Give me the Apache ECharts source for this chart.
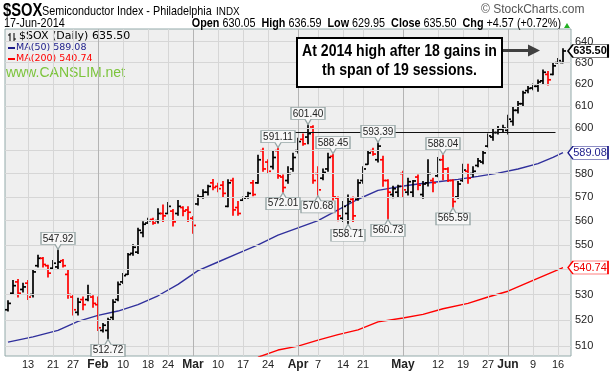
<!DOCTYPE html>
<html>
<head>
<meta charset="utf-8">
<script src="https://cdn.jsdelivr.net/npm/echarts@6/dist/echarts.min.js"></script>
<style>
    html, body { margin: 0; padding: 0; background: #fff; }
    #chart { width: 610px; height: 376px; }
</style>
</head>
<body>
<div id="chart"></div>
<script>
// trading day index 0 = 7-Jan-2014 ... 111 = 17-Jun-2014
const opens = [
    524, 530.5, 535, 532, 534.5, 530, 541.5, 544.5, 541.5, 540.5,
    541, 543.5, 538, 529, 523, 528, 528, 529, 526, 516,
    516, 521, 528, 535, 538, 546.5, 547, 555, 559, 560.5,
    560, 563, 563, 564, 563, 565.5, 564.5, 561, 567, 570,
    572, 576, 574.5, 575, 566, 577, 565.5, 568.6, 570, 576,
    576, 590, 585, 583, 590, 578.5, 577, 582, 590, 595,
    596, 600.5, 580, 578, 582, 587.5, 569.5, 561, 563, 569,
    569, 577, 584, 590, 586, 586, 577, 571, 572, 580,
    572, 572, 578.5, 571, 576, 577, 579, 586, 582, 577,
    570, 577, 581, 580, 583.5, 585, 592, 596, 598, 599.5,
    599, 603, 608, 611, 617, 618.2, 619, 621.5, 624.5, 624.5,
    630, 630.05
]
const highs = [
    527.5, 535.6, 536, 534.5, 535.6, 540, 545.7, 544.8, 541.7, 543.6,
    547.92, 544, 539.8, 529.8, 528.5, 529, 533.7, 529.5, 529, 518.7,
    520.7, 527.9, 535, 538.4, 546.4, 550, 556.8, 559.5, 561, 561,
    565, 566.6, 567.6, 564.7, 568.5, 565.8, 565.8, 561.7, 570.8, 573,
    575, 577.4, 575.8, 576.6, 577.3, 578, 568, 570, 572, 577,
    588, 591, 586, 589.8, 591.11, 579.4, 583, 588.8, 595.5, 597.4,
    601.4, 601, 583, 582, 588.8, 588.45, 570, 568, 570.8, 570,
    577.3, 583, 590, 591, 593.39, 587.5, 577.3, 574.5, 575, 581,
    578, 577, 579.4, 576.6, 586, 578, 587, 588.04, 582.5, 577.3,
    576.6, 584, 584, 583, 586.6, 590, 597.4, 599.8, 600.7, 601.3,
    605.8, 609.6, 612, 616.7, 618.9, 620, 621.9, 626.6, 625.8, 629.7,
    632, 636.59
]
const lows = [
    523.5, 530.3, 529, 531, 528, 529, 541, 541, 537, 540.3,
    540.3, 541, 528.5, 522, 522, 524, 527.5, 525, 516, 515.4,
    512.72, 520, 527.5, 534.4, 538, 545.7, 546.4, 553.3, 558.8, 558.5,
    559, 559.6, 563, 557.8, 562.3, 562, 559.6, 554.8, 566.6, 569.4,
    570.8, 573, 572.2, 570, 565.8, 562.3, 562.3, 568.5, 569.4, 570.5,
    575.8, 581, 580, 582, 578, 572.01, 575.8, 581, 589, 592.4,
    593, 575.8, 570.68, 577.3, 581, 568.6, 560, 559.6, 558.71, 559.6,
    568.6, 575.8, 584, 588, 585, 574.5, 560.73, 569.6, 570, 570,
    570.8, 570, 573, 569.4, 574.6, 572.2, 578.6, 577.3, 576.6, 565.59,
    569.4, 576.6, 575.8, 578.6, 583, 584.3, 591.6, 594.6, 597.4, 598.2,
    597.4, 601.3, 606.8, 609.8, 616, 617.4, 616.7, 620.3, 619.6, 624.3,
    629.7, 629.95
]
const closes = [
    526.5, 533.5, 530.5, 533, 529, 539, 544.5, 542, 538.5, 542.5,
    543, 541.5, 530, 524, 527, 526, 530, 526.5, 517, 518,
    520, 527, 534, 537.5, 546, 549, 556, 558.5, 560, 559,
    563, 562, 566, 559.5, 566, 564, 563.5, 558, 570, 572,
    574.5, 574, 573.5, 571.5, 576, 564.5, 563, 569.5, 571.5, 571,
    586, 582, 581, 587, 579, 574, 580, 587, 594, 593,
    597.5, 577, 573, 580.5, 587, 570, 562, 566, 568, 562,
    576, 582, 589, 588.5, 592, 577, 572, 573.5, 574.5, 573,
    576.5, 576.8, 575, 575.5, 580, 576, 586, 582, 577, 568,
    575.5, 581.5, 578, 581, 585.5, 589, 596.5, 598, 599.5, 600,
    604, 608, 611, 616, 618, 619, 621, 625.5, 622, 628.5,
    630.93, 635.5
]
const priorClose = 523

// moving averages: [day index, value]
const ma50Days = [0, 5, 10, 14, 18, 22, 26, 30, 34, 38, 42, 46, 50, 54, 58, 62, 66, 70, 74, 78, 82, 86, 90, 94, 98, 102, 106, 109, 111]
const ma50Values = [511.5, 513.5, 516, 519.5, 521.8, 523.5, 526, 529.5, 534, 539.5, 543, 546.5, 550, 554, 557, 560, 564.5, 569, 572.8, 574.3, 575.5, 576.5, 577.5, 578.8, 580.2, 582, 584.3, 587, 589.08]
const ma200Days = [50, 54, 58, 62, 66, 70, 74, 79, 83, 87, 92, 96, 100, 105, 111]
const ma200Values = [505.8, 508.5, 510, 512.3, 514.4, 516.2, 519.3, 520.8, 522.2, 524.4, 526.5, 529, 531.3, 535.6, 540.74]

// price call-outs
const noteDays = [10, 20, 54, 55, 60, 62, 65, 68, 74, 76, 87, 89]
const noteValues = [547.92, 512.72, 591.11, 572.01, 601.40, 570.68, 588.45, 558.71, 593.39, 560.73, 588.04, 565.59]
const noteSides = ['high', 'low', 'high', 'low', 'high', 'low', 'high', 'low', 'high', 'low', 'high', 'low']

// axes
const priceTicks = [510, 520, 530, 540, 550, 560, 570, 580, 590, 600, 610, 620, 630, 640]
const hiddenPriceLabels = [540, 590]
const dateTickDays = [4, 9, 13, 18, 23, 28, 32, 37, 42, 47, 52, 58, 62, 67, 71, 79, 86, 91, 96, 100, 105, 110]
const dateTickLabels = ['13', '21', '27', 'Feb', '10', '18', '24', 'Mar', '10', '17', '24', 'Apr', '7', '14', '21', 'May', '12', '19', '27', 'Jun', '9', '16']
const resistanceLevel = 598

const FONT = 'Arial, "Liberation Sans", sans-serif'
const VERD = '"DejaVu Sans", Verdana, sans-serif'

const bars = opens.map((o, i) => {
    const prev = i ? closes[i - 1] : priorClose
    return [i, o, highs[i], lows[i], closes[i], closes[i] > prev ? 1 : 0]
})

const renderBar = (params, api) => {
    const i = api.value(0)
    const hi = api.coord([i, api.value(2)])
    const lo = api.coord([i, api.value(3)])
    const op = api.coord([i, api.value(1)])
    const cl = api.coord([i, api.value(4)])
    const color = api.value(5) ? '#000' : '#ff0000'
    const x = Math.round(hi[0])
    const st = { stroke: color, lineWidth: 1.7 }
    return {
        type: 'group',
        children: [
            { type: 'line', shape: { x1: x, y1: hi[1] - 0.5, x2: x, y2: lo[1] + 0.5 }, style: st },
            { type: 'line', shape: { x1: x - 3, y1: op[1], x2: x, y2: op[1] }, style: st },
            { type: 'line', shape: { x1: x, y1: cl[1], x2: x + 3, y2: cl[1] }, style: st },
        ]
    }
}

const tagPath = 'path://M0,6L5,0L40,0L40,12L5,12Z'
const highNote = 'path://M0,0L34,0L34,12L20,12L17,17L14,12L0,12Z'
const lowNote = 'path://M0,5L14,5L17,0L20,5L34,5L34,17L0,17Z'

const hLines = priceTicks.map(p => ({
    yAxis: p,
    label: { formatter: hiddenPriceLabels.includes(p) ? '' : String(p) },
}))
const vLines = dateTickDays.map((d, k) => {
    const isMonth = isNaN(Number(dateTickLabels[k]))
    return {
        xAxis: d,
        lineStyle: { color: isMonth ? '#b4b4b4' : '#d6d6d6' },
        label: {
            formatter: dateTickLabels[k],
            fontWeight: isMonth ? 'bold' : 'normal',
            fontSize: isMonth ? 12 : 11,
        },
    }
})

const notes = noteDays.map((d, k) => {
    const up = noteSides[k] === 'high'
    return {
        coord: [d, noteValues[k]],
        symbol: up ? highNote : lowNote,
        symbolOffset: [0, up ? -9 : 9],
        label: { formatter: noteValues[k].toFixed(2), offset: [0, up ? -2 : 2] },
    }
})

const chart = echarts.init(document.getElementById('chart'))
chart.setOption({
    animation: false,
    backgroundColor: '#fff',
    grid: {
        left: 5, right: 39, top: 29, bottom: 20,
        show: true, backgroundColor: '#efefef', borderColor: '#93aaaa', borderWidth: 1,
    },
    xAxis: {
        type: 'value', min: -0.6, max: 112.6,
        axisLine: { show: false }, axisTick: { show: false },
        axisLabel: { show: false }, splitLine: { show: false },
    },
    yAxis: {
        type: 'log', logBase: 10, min: 506.25, max: 646, position: 'right',
        axisLine: { show: false }, axisTick: { show: false },
        axisLabel: { show: false }, splitLine: { show: false },
    },
    series: [
        {
            name: 'grid',
            type: 'line',
            data: [],
            clip: false,
            silent: true,
            z: 1,
            markLine: {
                silent: true,
                symbol: 'none',
                animation: false,
                lineStyle: { color: '#d6d6d6', width: 1, type: 'solid' },
                label: { color: '#222', fontFamily: FONT, fontSize: 11 },
                data: [
                    ...hLines.map(h => ({ ...h, label: { ...h.label, position: 'end', distance: 4 } })),
                    ...vLines.map(v => ({ ...v, label: { ...v.label, position: 'start', distance: 3 } })),
                ],
            },
        },
        {
            name: 'MA(200)',
            type: 'line',
            data: ma200Days.map((d, k) => [d, ma200Values[k]]),
            showSymbol: false,
            lineStyle: { color: '#ff0000', width: 1.4 },
            z: 2,
            markPoint: {
                symbol: tagPath, symbolSize: [40, 13], symbolOffset: [25, 0], symbolKeepAspect: false,
                itemStyle: { color: '#fff', borderColor: '#ff0000', borderWidth: 1 },
                label: { show: true, position: 'inside', offset: [2, 0], color: '#e00', fontFamily: FONT, fontSize: 11 },
                data: [{ coord: [111, 540.74], label: { formatter: '540.74' } }],
            },
        },
        {
            name: 'MA(50)',
            type: 'line',
            data: ma50Days.map((d, k) => [d, ma50Values[k]]),
            showSymbol: false,
            lineStyle: { color: '#30309c', width: 1.4 },
            z: 2,
            markPoint: {
                symbol: tagPath, symbolSize: [40, 13], symbolOffset: [25, 0], symbolKeepAspect: false,
                itemStyle: { color: '#fff', borderColor: '#1c1c8a', borderWidth: 1 },
                label: { show: true, position: 'inside', offset: [2, 0], color: '#1c1c8a', fontFamily: FONT, fontSize: 11 },
                data: [{ coord: [111, 589.08], label: { formatter: '589.08' } }],
            },
        },
        {
            name: '$SOX',
            type: 'custom',
            renderItem: renderBar,
            data: bars,
            encode: { x: 0, y: [1, 2, 3, 4] },
            z: 3,
            markLine: {
                silent: true,
                symbol: 'none',
                lineStyle: { color: '#111', width: 1, type: 'solid' },
                label: { show: false },
                data: [[{ coord: [55, resistanceLevel] }, { coord: [109.5, resistanceLevel] }]],
            },
            markPoint: {
                symbolSize: [34, 17], symbolKeepAspect: false,
                itemStyle: { color: '#f7f7f7', borderColor: '#97a6a6', borderWidth: 1 },
                label: { show: true, position: 'inside', color: '#222', fontFamily: FONT, fontSize: 10 },
                data: [
                    ...notes,
                    {
                        coord: [111, 635.5], symbol: tagPath, symbolSize: [40, 13], symbolOffset: [25, 0],
                        itemStyle: { color: '#fff', borderColor: '#000', borderWidth: 1.2 },
                        label: { formatter: '635.50', offset: [2, 0], fontWeight: 'bold', fontSize: 11, color: '#000' },
                    },
                ],
            },
        },
    ],
    graphic: [
        { type: 'text', x: 3, y: 2, scaleX: 0.82, style: { text: '$SOX', font: 'bold 18px ' + FONT, fill: '#000' } },
        { type: 'text', x: 42, y: 5, scaleX: 0.83, style: { text: 'Semiconductor Index - Philadelphia', font: '13px ' + FONT, fill: '#000' } },
        { type: 'text', x: 216, y: 6, scaleX: 0.9, style: { text: 'INDX', font: '11px ' + FONT, fill: '#000' } },
        { type: 'text', x: 481, y: 4, style: { text: '\u00a9 StockCharts.com', font: '12px ' + FONT, fill: '#555' } },
        { type: 'text', x: 4, y: 18, scaleX: 0.9, style: { text: '17-Jun-2014', font: '12px ' + FONT, fill: '#000' } },
        {
            type: 'text', x: 561, y: 18, scaleX: 0.9,
            style: {
                text: '{b|Open} 630.05  {b|High} 636.59  {b|Low} 629.95  {b|Close} 635.50  {b|Chg} +4.57 (+0.72%)',
                font: '12px ' + FONT, fill: '#000', align: 'right',
                rich: { b: { fontWeight: 'bold', fontFamily: FONT, fontSize: 12 } },
            },
        },
        { type: 'polygon', shape: { points: [[564, 28], [567, 23], [570, 28]] }, style: { fill: '#22b022' } },

        // legend in the plot
        { type: 'line', shape: { x1: 10, y1: 33, x2: 10, y2: 41 }, style: { stroke: '#000', lineWidth: 1 } },
        { type: 'line', shape: { x1: 8, y1: 35, x2: 10, y2: 35 }, style: { stroke: '#000', lineWidth: 1 } },
        { type: 'line', shape: { x1: 14, y1: 33, x2: 14, y2: 41 }, style: { stroke: '#000', lineWidth: 1 } },
        { type: 'line', shape: { x1: 14, y1: 39, x2: 16, y2: 39 }, style: { stroke: '#000', lineWidth: 1 } },
        { type: 'text', x: 19, y: 31, style: { text: '$SOX (Daily) 635.50', font: '11px ' + VERD, fill: '#000' } },
        { type: 'line', shape: { x1: 8, y1: 48, x2: 15, y2: 48 }, style: { stroke: '#1c1c8a', lineWidth: 2 } },
        { type: 'text', x: 16, y: 43, style: { text: 'MA(50) 589.08', font: '9.5px ' + VERD, fill: '#1c1c8a' } },
        { type: 'line', shape: { x1: 8, y1: 59, x2: 15, y2: 59 }, style: { stroke: '#ff0000', lineWidth: 2 } },
        { type: 'text', x: 16, y: 54, style: { text: 'MA(200) 540.74', font: '9.5px ' + VERD, fill: '#ff0000' } },
        { type: 'text', x: 6, y: 66, style: { text: 'www.CANSLIM.net', font: '14px ' + FONT, fill: '#7cc43c' } },

        // annotation
        {
            type: 'rect', shape: { x: 297, y: 38, width: 205, height: 49 },
            style: { fill: '#fff', stroke: '#000', lineWidth: 2 }, z: 10,
        },
        {
            type: 'text', x: 399.5, y: 42, scaleX: 0.88, z: 11,
            style: {
                text: 'At 2014 high after 18 gains in\nth span of 19 sessions.',
                font: 'bold 16px ' + FONT, fill: '#000', align: 'center', lineHeight: 19,
            },
        },
        { type: 'line', shape: { x1: 503, y1: 50.5, x2: 530, y2: 50.5 }, style: { stroke: '#404040', lineWidth: 3 }, z: 10 },
        { type: 'polygon', shape: { points: [[528, 44.5], [540, 50.5], [528, 56.5]] }, style: { fill: '#404040' }, z: 10 },
    ],
})
</script>
</body>
</html>
